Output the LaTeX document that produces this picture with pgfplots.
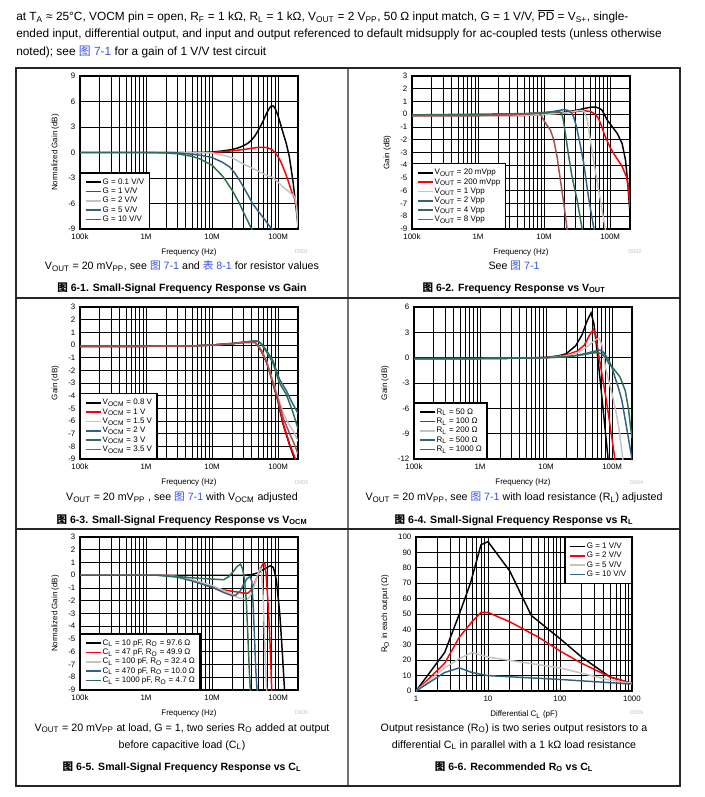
\documentclass[border=0pt]{standalone}
\usepackage{pgfplots}
\pgfplotsset{compat=1.18}
\usepackage{fontspec}
\setmainfont{Liberation Sans}
\newfontfamily\cjk{Noto Sans CJK SC}

\definecolor{cgray}{RGB}{195,195,195}
\definecolor{cblue}{RGB}{48,98,130}
\definecolor{cgreen}{RGB}{45,112,78}
\definecolor{cbrown}{RGB}{165,78,78}
\definecolor{clink}{RGB}{55,80,235}

\newcommand{\sub}[1]{\textsubscript{#1}}
\newcommand{\figref}[1]{\textcolor{clink}{{\cjk 图} #1}}
\newcommand{\tabref}[1]{\textcolor{clink}{{\cjk 表} #1}}
\newcommand{\figcap}[1]{{\cjk\bfseries 图} #1}
\newcommand{\hdr}{\fontsize{8.9}{10}\selectfont}
\newcommand{\sbt}{\fontsize{8.0}{9.5}\selectfont}
\newcommand{\cpt}{\fontsize{7.9}{9.5}\selectfont\bfseries}

\pgfplotsset{
  ti/.style={
    scale only axis, width=163.5pt, height=114.75pt,
    anchor=north west,
    axis line style={line width=1.1pt},
    grid=both,
    major grid style={black, line width=0.6pt},
    minor grid style={black, line width=0.6pt},
    major tick length=0pt, minor tick length=0pt,
    tick label style={font=\fontsize{5.9}{6.5}\selectfont},
    label style={font=\fontsize{6}{6.5}\selectfont},
    legend style={font=\fontsize{6}{6.4}\selectfont, draw=black, line width=1pt,
      inner sep=3.2pt, row sep=0pt,
      nodes={inner sep=0.6pt, text height=4.4pt, text depth=1.4pt}},
    legend cell align=left,
    legend image code/.code={\draw[##1, line width=1.2pt] (0pt,0pt) -- (11.5pt,0pt);},
    every axis plot/.append style={line width=1.1pt, mark=none},
  },
  freq/.style={ti, xmin=1e5, xmax=2e8,
    xtick={1e5,1e6,1e7,1e8}, xticklabels={100k,1M,10M,100M},
    minor xtick={2e5,3e5,4e5,5e5,6e5,7e5,8e5,9e5,2e6,3e6,4e6,5e6,6e6,7e6,8e6,9e6,
      2e7,3e7,4e7,5e7,6e7,7e7,8e7,9e7,2e8},
    xlabel={Frequency (Hz)},
    legend style={at={(0,0)}, anchor=south west}},
}

\begin{document}
\begin{tikzpicture}
\path[use as bounding box] (0,0) rectangle (528.75pt,-597.75pt);

\begin{scope}[x=0.75pt, y=-0.75pt]
% frame
\draw[line width=1.3pt, black!55] (348,68) -- (348,786);
\draw[line width=0.9pt, black!85] (16,298) -- (680,298);
\draw[line width=0.9pt, black!85] (16,529) -- (680,529);
\draw[line width=0.9pt, black!85] (16,68) rectangle (680,786);

% header
\node[anchor=base west, inner sep=0, font=\hdr] at (16,20.5) {at T\sub{A} ≈ 25°C, VOCM pin = open, R\sub{F} = 1 kΩ, R\sub{L} = 1 kΩ, V\sub{OUT} = 2 V\sub{PP}, 50 Ω input match, G = 1 V/V, \(\overline{\mbox{PD}}\) = V\sub{S+}, single-};
\node[anchor=base west, inner sep=0, font=\hdr] at (16,37.7) {ended input, differential output, and input and output referenced to default midsupply for ac-coupled tests (unless otherwise};
\node[anchor=base west, inner sep=0, font=\hdr] at (16,55) {noted); see \figref{7-1} for a gain of 1 V/V test circuit};

% row 1 texts
\node[anchor=base, inner sep=0, font=\sbt] at (182,269.5) {V\sub{OUT} = 20 mV\sub{PP}, see \figref{7-1} and \tabref{8-1} for resistor values};
\node[anchor=base, inner sep=0, font=\cpt] at (182,291) {\figcap{6-1. Small-Signal Frequency Response vs Gain}};
\node[anchor=base, inner sep=0, font=\sbt] at (514,269.5) {See \figref{7-1}};
\node[anchor=base, inner sep=0, font=\cpt] at (514,291) {\figcap{6-2. Frequency Response vs V\sub{OUT}}};

% row 2 texts
\node[anchor=base, inner sep=0, font=\sbt] at (182,500.5) {V\sub{OUT} = 20 mV\sub{PP} , see \figref{7-1} with V\sub{OCM} adjusted};
\node[anchor=base, inner sep=0, font=\cpt] at (182,523) {\figcap{6-3. Small-Signal Frequency Response vs V\sub{OCM}}};
\node[anchor=base, inner sep=0, font=\sbt] at (514,500.5) {V\sub{OUT} = 20 mV\sub{PP}, see \figref{7-1} with load resistance (R\sub{L}) adjusted};
\node[anchor=base, inner sep=0, font=\cpt] at (514,523) {\figcap{6-4. Small-Signal Frequency Response vs R\sub{L}}};

% row 3 texts
\node[anchor=base, inner sep=0, font=\sbt] at (182,731) {V\sub{OUT} = 20 mV\sub{PP} at load, G = 1, two series R\sub{O} added at output};
\node[anchor=base, inner sep=0, font=\sbt] at (182,748) {before capacitive load (C\sub{L})};
\node[anchor=base, inner sep=0, font=\cpt] at (182,770) {\figcap{6-5. Small-Signal Frequency Response vs C\sub{L}}};
\node[anchor=base, inner sep=0, font=\sbt] at (514,731) {Output resistance (R\sub{O}) is two series output resistors to a};
\node[anchor=base, inner sep=0, font=\sbt] at (514,748) {differential C\sub{L} in parallel with a 1 kΩ load resistance};
\node[anchor=base, inner sep=0, font=\cpt] at (514,770) {\figcap{6-6. Recommended R\sub{O} vs C\sub{L}}};

% figure ids
\foreach \x/\y/\t in {301.7/251.7/D001, 635/251.7/D002, 301.7/482.7/D003, 636.7/482.7/D004, 301.7/713/D005, 637/713/D006}
  \node[font=\fontsize{4.1}{4.5}\selectfont, text=black!25, inner sep=0] at (\x,\y) {\t};
\end{scope}

% ---------- 6-1 ----------
\begin{axis}[xmode=log, freq, at={(60pt,-57pt)}, ymin=-9, ymax=9, ytick={-9,-6,...,9},
  /pgf/number format/assume math mode=true,
  ylabel={Normalized Gain (dB)}]
\addplot[black] coordinates {(1e5,0) (1e6,0) (5e6,0) (1e7,0.05) (1.5e7,0.2) (2e7,0.35) (2.5e7,0.55) (3e7,0.8) (3.5e7,1.1) (4e7,1.5) (4.5e7,2.0) (5e7,2.6) (5.5e7,3.2) (6e7,3.8) (6.5e7,4.4) (7e7,4.9) (7.5e7,5.3) (8e7,5.5) (8.5e7,5.45) (9e7,5.2) (1e8,4.3) (1.1e8,3.2) (1.2e8,2.2) (1.33e8,1.05) (1.48e8,-0.5) (1.58e8,-2.0) (1.68e8,-3.4) (1.8e8,-5.4) (1.9e8,-7.0) (2e8,-8.6)};
\addplot[red] coordinates {(1e5,0) (1e7,0) (1.5e7,0.1) (2e7,0.2) (3e7,0.35) (4e7,0.5) (5e7,0.6) (6e7,0.62) (7e7,0.55) (8e7,0.35) (9e7,0.0) (1e8,-0.5) (1.1e8,-1.1) (1.2e8,-1.8) (1.3e8,-2.5) (1.4e8,-3.2) (1.5e8,-3.9) (1.6e8,-4.6) (1.7e8,-5.1) (1.8e8,-5.5) (1.9e8,-6.4) (2e8,-8.0)};
\addplot[cgray] coordinates {(1e5,0) (5e6,0) (1e7,-0.05) (1.6e7,-0.4) (2e7,-0.6) (2.6e7,-1.1) (3.5e7,-1.6) (4.7e7,-2.1) (6e7,-2.5) (7e7,-2.75) (8.3e7,-2.95) (1e8,-3.5) (1.2e8,-4.1) (1.4e8,-4.5) (1.55e8,-4.8) (1.7e8,-5.0) (1.8e8,-5.3) (1.9e8,-6.3) (2e8,-8.8)};
\addplot[cblue] coordinates {(1e5,0) (2e6,0) (3e6,-0.05) (5e6,-0.2) (7e6,-0.35) (1e7,-0.6) (1.4e7,-1.1) (1.85e7,-1.7) (2.2e7,-2.4) (2.6e7,-3.25) (3e7,-4.1) (3.5e7,-5.0) (4.1e7,-6.0) (5e7,-6.9) (6e7,-7.7) (7.5e7,-8.7) (8.5e7,-9.2)};
\addplot[cgreen] coordinates {(1e5,0) (1e6,0) (2e6,-0.05) (3e6,-0.15) (5e6,-0.45) (6.5e6,-0.75) (1e7,-1.5) (1.47e7,-2.85) (2e7,-4.4) (2.6e7,-6.0) (3.2e7,-7.5) (3.8e7,-8.7) (4.2e7,-9.3)};
\legend{G = 0.1 V/V, G = 1 V/V, G = 2 V/V, G = 5 V/V, G = 10 V/V}
\end{axis}

% ---------- 6-2 ----------
\begin{axis}[xmode=log, freq, at={(309pt,-57pt)}, ymin=-9, ymax=3, ytick={-9,-8,...,3},
  /pgf/number format/assume math mode=true,
  ylabel={Gain (dB)}]
\addplot[black] coordinates {(1e5,-0.1) (1e6,-0.1) (5e6,-0.08) (1e7,0) (2e7,0.15) (3e7,0.3) (4e7,0.44) (5e7,0.55) (6e7,0.57) (7e7,0.45) (7.6e7,0.3) (9e7,-0.45) (1e8,-0.75) (1.28e8,-1.5) (1.52e8,-2.3) (1.71e8,-3.6) (1.85e8,-5.4) (2e8,-7.8)};
\addplot[red] coordinates {(1e5,-0.1) (5e6,-0.08) (1e7,0) (2e7,0.1) (3e7,0.2) (4e7,0.28) (5e7,0.22) (6e7,0.0) (6.7e7,-0.34) (7.5e7,-1.0) (8.5e7,-1.8) (1e8,-2.6) (1.14e8,-3.1) (1.52e8,-4.1) (1.77e8,-4.9) (1.9e8,-5.8) (2e8,-7.3)};
\addplot[cgray] coordinates {(1e5,-0.1) (5e6,-0.1) (1e7,-0.02) (2e7,0.1) (3e7,0.25) (3.6e7,0.3) (4e7,0.25) (4.5e7,-0.4) (5e7,-2.0) (5.5e7,-3.3) (6e7,-4.5) (7e7,-6.5) (8e7,-8.3) (8.7e7,-9.3)};
\addplot[cblue] coordinates {(1e5,-0.05) (3e6,-0.05) (1e7,0.1) (1.5e7,0.25) (2e7,0.37) (2.3e7,0.3) (2.6e7,0.1) (2.8e7,-0.2) (3.1e7,-1.0) (3.5e7,-2.3) (4e7,-3.9) (4.7e7,-6.5) (5.6e7,-8.8) (6e7,-9.5)};
\addplot[cgreen] coordinates {(1e5,-0.05) (5e6,0.05) (1e7,0.15) (1.5e7,0.2) (1.7e7,0.22) (1.85e7,0.05) (1.95e7,-0.4) (2.1e7,-1.5) (2.36e7,-3.3) (2.65e7,-4.9) (3.16e7,-6.7) (3.77e7,-9) (4e7,-9.5)};
\addplot[cbrown] coordinates {(1e5,-0.1) (1e6,-0.1) (5e6,0) (8e6,0.1) (8.8e6,0) (1.05e7,-0.7) (1.25e7,-1.25) (1.4e7,-2.0) (1.57e7,-3.3) (1.77e7,-5.2) (1.99e7,-7) (2.23e7,-9) (2.3e7,-9.5)};
\legend{V\sub{OUT} = 20 mVpp, V\sub{OUT} = 200 mVpp, V\sub{OUT} = 1 Vpp, V\sub{OUT} = 2 Vpp, V\sub{OUT} = 4 Vpp, V\sub{OUT} = 8 Vpp}
\end{axis}

% ---------- 6-3 ----------
\begin{axis}[xmode=log, freq, at={(60pt,-230.25pt)}, height=114pt, ymin=-9, ymax=3, ytick={-9,-8,...,3},
  /pgf/number format/assume math mode=true,
  ylabel={Gain (dB)}]
\addplot[black] coordinates {(1e5,-0.1) (1e6,-0.1) (5e6,-0.08) (1e7,0) (2e7,0.1) (3e7,0.2) (4e7,0.22) (4.5e7,0.2) (5e7,-0.1) (5.6e7,-0.5) (6.6e7,-1.3) (7.5e7,-2.2) (8.4e7,-3.1) (9.9e7,-4.4) (1.18e8,-6.2) (1.49e8,-7.9) (1.8e8,-9.1)};
\addplot[red] coordinates {(1e5,-0.1) (1e6,-0.1) (5e6,-0.08) (1e7,0) (2e7,0.1) (3e7,0.2) (4e7,0.22) (4.5e7,0.2) (5e7,-0.1) (5.6e7,-0.5) (6.6e7,-1.25) (7.5e7,-2.1) (8.4e7,-3.0) (9.9e7,-4.35) (1.18e8,-6.1) (1.49e8,-7.8) (1.86e8,-9.1)};
\addplot[cgray] coordinates {(1e5,-0.1) (1e6,-0.1) (5e6,-0.08) (1e7,0) (2e7,0.1) (3e7,0.2) (4e7,0.22) (4.5e7,0.2) (5e7,-0.05) (5.6e7,-0.4) (6.6e7,-1.2) (8.4e7,-2.9) (1e8,-4.1) (1.2e8,-5.4) (1.5e8,-6.4) (1.75e8,-6.9) (2e8,-7.6)};
\addplot[cblue] coordinates {(1e5,-0.1) (1e6,-0.1) (5e6,-0.08) (1e7,0) (2e7,0.12) (3e7,0.22) (4e7,0.3) (5e7,0.3) (5.6e7,0.1) (6.6e7,-0.4) (8.3e7,-1.2) (1.05e8,-2.7) (1.33e8,-3.6) (1.65e8,-4.6) (2e8,-5.4)};
\addplot[cgreen] coordinates {(1e5,-0.1) (1e6,-0.1) (5e6,-0.08) (1e7,0) (2e7,0.12) (3e7,0.22) (4e7,0.3) (5e7,0.3) (5.6e7,0.05) (6.6e7,-0.5) (8.3e7,-1.4) (1.05e8,-3.0) (1.33e8,-3.9) (1.65e8,-5.2) (2e8,-6.6)};
\addplot[cbrown] coordinates {(1e5,-0.1) (1e6,-0.1) (5e6,-0.08) (1e7,0) (2e7,0.12) (3e7,0.2) (4e7,0.22) (4.5e7,0.2) (5e7,-0.1) (5.6e7,-0.45) (6.6e7,-1.25) (8.4e7,-3.0) (1e8,-4.3) (1.2e8,-5.8) (1.5e8,-7.0) (1.75e8,-7.8) (2e8,-8.6)};
\legend{V\sub{OCM} = 0.8 V, V\sub{OCM} = 1 V, V\sub{OCM} = 1.5 V, V\sub{OCM} = 2 V, V\sub{OCM} = 3 V, V\sub{OCM} = 3.5 V}
\end{axis}

% ---------- 6-4 ----------
\begin{axis}[xmode=log, freq, at={(310.5pt,-230.25pt)}, height=114pt, ymin=-12, ymax=6, ytick={-12,-9,...,6},
  /pgf/number format/assume math mode=true,
  ylabel={Gain (dB)}]
\addplot[black] coordinates {(1e5,-0.1) (1e6,-0.1) (5e6,-0.05) (1e7,0.05) (1.5e7,0.2) (2e7,0.45) (2.8e7,1.4) (3.5e7,2.7) (4.2e7,4.4) (4.8e7,5.3) (5.3e7,4.0) (5.9e7,0.9) (6.67e7,-3.05) (7.5e7,-7) (8.7e7,-12) (9e7,-13)};
\addplot[red] coordinates {(1e5,-0.1) (1e6,-0.1) (5e6,-0.05) (1e7,0) (2e7,0.3) (3e7,0.8) (3.8e7,1.5) (4.5e7,2.6) (5.2e7,3.35) (5.6e7,2.9) (5.9e7,1.7) (6.3e7,0.2) (7e7,-1.9) (8e7,-4.6) (8.9e7,-7) (1e8,-9.7) (1.1e8,-12) (1.15e8,-13)};
\addplot[cgray] coordinates {(1e5,-0.1) (1e6,-0.1) (5e6,-0.05) (1e7,0) (2e7,0.2) (3e7,0.6) (4e7,1.2) (5e7,1.8) (5.8e7,2.2) (6.4e7,2.3) (7e7,1.5) (7.9e7,-1.1) (8.8e7,-2.6) (1e8,-4.3) (1.13e8,-6.2) (1.26e8,-8.2) (1.45e8,-12) (1.5e8,-13)};
\addplot[cblue] coordinates {(1e5,-0.1) (1e6,-0.1) (5e6,-0.05) (1e7,0) (2e7,0.1) (3e7,0.3) (4e7,0.5) (5e7,0.7) (6.5e7,0.9) (7.5e7,0.6) (8.9e7,-0.3) (1e8,-1.2) (1.1e8,-2.3) (1.25e8,-3.6) (1.4e8,-5) (1.65e8,-8.2) (1.9e8,-11) (2e8,-12)};
\addplot[cgreen] coordinates {(1e5,-0.1) (1e6,-0.1) (5e6,-0.05) (1e7,0) (2e7,0.1) (3e7,0.25) (4e7,0.4) (5e7,0.55) (6e7,0.6) (7e7,0.45) (8e7,0) (8.9e7,-0.7) (1e8,-1.1) (1.1e8,-1.5) (1.32e8,-2.3) (1.58e8,-3.9) (1.78e8,-6.2) (1.9e8,-8.2) (2e8,-9.5)};
\legend{R\sub{L} = 50 Ω, R\sub{L} = 100 Ω, R\sub{L} = 200 Ω, R\sub{L} = 500 Ω, R\sub{L} = 1000 Ω}
\end{axis}

% ---------- 6-5 ----------
\begin{axis}[xmode=log, freq, at={(60pt,-402.75pt)}, ymin=-9, ymax=3, ytick={-9,-8,...,3},
  /pgf/number format/assume math mode=true,
  ylabel={Normalized Gain (dB)}]
\addplot[black] coordinates {(1e5,0) (1e7,0) (3e7,0) (4e7,0.05) (5e7,0.2) (6e7,0.45) (7e7,0.65) (7.7e7,0.75) (8.5e7,0.6) (9.4e7,-0.35) (1.06e8,-3) (1.16e8,-6.1) (1.25e8,-9) (1.3e8,-10)};
\addplot[red] coordinates {(1e5,0) (2e6,0) (3e6,-0.1) (4.5e6,-0.35) (6.5e6,-0.6) (1e7,-0.95) (1.5e7,-1.15) (2.3e7,-1.3) (3e7,-1.4) (3.5e7,-1.4) (4e7,-1.1) (4.5e7,-0.5) (5e7,0.1) (5.5e7,0.6) (6e7,0.95) (6.3e7,0.9) (6.6e7,0.0) (7e7,-2) (7.4e7,-4.3) (7.7e7,-6.5) (8e7,-9) (8.2e7,-10)};
\addplot[cgray] coordinates {(1e5,0) (2e6,0) (3e6,-0.1) (5e6,-0.35) (1e7,-0.8) (1.5e7,-1.2) (2e7,-1.5) (2.6e7,-1.8) (3.5e7,-1.85) (4e7,-1.4) (4.5e7,-0.6) (5e7,0.2) (5.3e7,0.55) (5.6e7,0.3) (5.9e7,-1.5) (6.2e7,-4.5) (6.5e7,-7.5) (6.7e7,-9) (6.9e7,-10)};
\addplot[cblue] coordinates {(1e5,0) (1.5e6,0) (3e6,-0.15) (5e6,-0.45) (1e7,-0.95) (1.5e7,-1.35) (2e7,-1.6) (2.3e7,-1.55) (2.7e7,-1.2) (3e7,-0.7) (3.4e7,-0.25) (3.8e7,-0.1) (4e7,-0.5) (4.2e7,-2.5) (4.4e7,-5) (4.6e7,-7.5) (4.8e7,-9) (5e7,-10)};
\addplot[cgreen] coordinates {(1e5,0) (1.5e6,0) (3e6,-0.1) (5e6,-0.2) (1e7,-0.3) (1.5e7,-0.35) (1.8e7,-0.1) (2.1e7,0.3) (2.4e7,0.7) (2.7e7,0.87) (2.9e7,0.5) (3.1e7,-0.35) (3.3e7,-2) (3.5e7,-5) (3.7e7,-8) (3.9e7,-10)};
\legend{{C\sub{L} = 10 pF, R\sub{O} = 97.6 Ω}, {C\sub{L} = 47 pF, R\sub{O} = 49.9 Ω}, {C\sub{L} = 100 pF, R\sub{O} = 32.4 Ω}, {C\sub{L} = 470 pF, R\sub{O} = 10.0 Ω}, {C\sub{L} = 1000 pF, R\sub{O} = 4.7 Ω}}
\end{axis}

% ---------- 6-6 ----------
\begin{axis}[xmode=log, ti, at={(312pt,-402.75pt)}, width=162pt, height=115.5pt,
  xmin=1, xmax=1000, xtick={1,10,100,1000}, xticklabels={1,10,100,1000},
  minor xtick={2,3,4,5,6,7,8,9,20,30,40,50,60,70,80,90,200,300,400,500,600,700,800,900},
  ymin=0, ymax=100, ytick={0,10,...,100},
  /pgf/number format/assume math mode=true,
  xlabel={Differential C\sub{L} (pF)}, ylabel={R\sub{O} in each output (Ω)},
  legend style={at={(1,1)}, anchor=north east}]
\addplot[black] coordinates {(1,0) (2.5,25) (4,50) (5.7,70) (8,95) (10,97) (20,78) (40,49) (100,34) (200,22) (500,9) (1000,5)};
\addplot[red] coordinates {(1,0) (2.5,18) (4,35) (6,45) (8,51) (10,51) (20,45) (50,35) (100,26) (200,18) (500,9) (1000,5)};
\addplot[cgray] coordinates {(1,0) (2.5,15) (4,21) (6,25) (10,22) (100,15) (500,7) (1000,5)};
\addplot[cblue] coordinates {(1,0) (2.5,12) (4,15) (6,12) (10,10) (100,7.5) (1000,4.5)};
\legend{G = 1 V/V, G = 2 V/V, G = 5 V/V, G = 10 V/V}
\end{axis}
\end{tikzpicture}
\end{document}
